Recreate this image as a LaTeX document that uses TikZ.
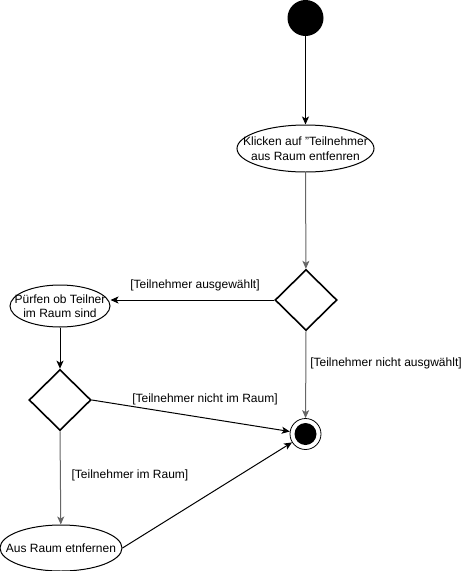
\documentclass[tikz,border=0pt]{standalone}
\usepackage{fontspec}
\setmainfont{Liberation Sans}
\usetikzlibrary{shapes.geometric,arrows.meta}
\begin{document}
\begin{tikzpicture}[x=1pt,y=-1pt,
  every node/.style={font=\fontsize{12}{14.5}\selectfont},
  act/.style={draw,ellipse,line width=1pt,inner sep=0pt},
  txt/.style={align=center,inner sep=0pt},
  dec/.style={draw,diamond,line width=1.6pt,minimum width=62pt,minimum height=61pt,inner sep=0pt},
  flow/.style={line width=1pt,-{Stealth[length=8pt,width=7pt,inset=2pt]}},
  gflow/.style={flow,draw=black!60},
  lbl/.style={inner sep=0pt}]
\useasboundingbox (0,0) rectangle (471,571);
\node[circle,fill=black,minimum size=36pt,inner sep=0pt] (start) at (305.5,18) {};
\node[act,minimum width=137pt,minimum height=47pt] (klick) at (305.5,148.5) {};
\node[txt] (klickt) at (klick.center) {Klicken auf "Teilnehmer\\aus Raum entfenren};
\node[dec] (d1) at (306,300) {};
\node[act,minimum width=100pt,minimum height=42pt] (pruef) at (60,306) {};
\node[txt] (prueft) at (pruef.center) {Pürfen ob Teilner\\im Raum sind};
\node[dec] (d2) at (60,400) {};
\node[act,minimum width=122pt,minimum height=46pt] (aus) at (61,548) {};
\node[txt] (aust) at (aus.center) {Aus Raum etnfernen};
\node[circle,draw,line width=0.8pt,minimum size=31pt,inner sep=0pt] (final) at (305.5,434) {};
\node[circle,fill=black,minimum size=22pt,inner sep=0pt] (finalin) at (final.center) {};
\draw[flow] (start) -- (klick);
\draw[gflow] (klick) -- (d1);
\draw[flow] (d1.west) -- (pruef.east |- d1.west);
\draw[gflow] (d1.south) -- (final);
\draw[flow] (pruef) -- (d2);
\draw[flow] (d2.east) -- (final);
\draw[gflow] (d2.south) -- (aus);
\draw[flow] (aus.east) -- (final);
\node[lbl] (l1) at (195,285) {[Teilnehmer ausgewählt]};
\node[lbl] (l2) at (386,363) {[Teilnehmer nicht ausgwählt]};
\node[lbl] (l3) at (205,399) {[Teilnehmer nicht im Raum]};
\node[lbl] (l4) at (130,475) {[Teilnehmer im Raum]};
\end{tikzpicture}
\end{document}
